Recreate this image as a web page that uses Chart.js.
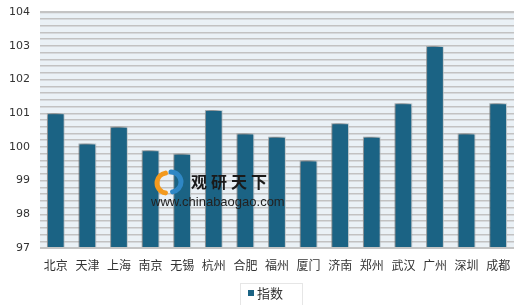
<!DOCTYPE html>
<html><head><meta charset="utf-8">
<script src="https://cdn.jsdelivr.net/npm/chart.js@4/dist/chart.umd.min.js"></script>
<style>html,body{margin:0;padding:0;background:#fff}#wrap{width:520px;height:305px}</style>
</head><body><div id="wrap"><canvas id="c" width="520" height="305"></canvas></div>
<script>
const categories = ['北京','天津','上海','南京','无锡','杭州','合肥','福州','厦门','济南','郑州','武汉','广州','深圳','成都'];
const indexValues = [101.0,100.1,100.6,99.9,99.8,101.1,100.4,100.3,99.6,100.7,100.3,101.3,103.0,100.4,101.3];
const seriesName = '指数';
const yMin = 97, yMax = 104;
const barColor = '#1b6384';

const bgPlugin = {
  id:'bg',
  beforeDraw(chart){
    const {ctx, chartArea:a} = chart;
    ctx.save();
    ctx.fillStyle = '#eaf1f6';
    ctx.fillRect(a.left, a.top, a.right-a.left, a.bottom-a.top);
    ctx.restore();
  },
  beforeDatasetDraw(chart){
    const ctx = chart.ctx;
    ctx.save();
    ctx.shadowColor = 'rgba(0,0,0,0.6)';
    ctx.shadowBlur = 8;
    ctx.shadowOffsetX = -2;
    ctx.shadowOffsetY = -3;
  },
  afterDatasetDraw(chart){ chart.ctx.restore(); },
  afterDraw(chart){
    const {ctx, chartArea:a} = chart;
    ctx.save();
    ctx.strokeStyle = '#c4c4c4'; ctx.lineWidth = 2;
    ctx.beginPath(); ctx.moveTo(a.left, a.bottom); ctx.lineTo(a.right, a.bottom); ctx.stroke();
    ctx.beginPath(); ctx.moveTo(a.left, a.top); ctx.lineTo(a.right, a.top); ctx.stroke();
    // watermark logo
    const cx = 167, cy = 183;
    ctx.lineWidth = 5; ctx.lineCap='round';
    ctx.strokeStyle = '#f39a1e';
    ctx.beginPath(); ctx.arc(cx, cy, 10, Math.PI*0.55, Math.PI*1.45); ctx.stroke();
    ctx.strokeStyle = '#2f87c5';
    ctx.beginPath(); ctx.arc(cx+4, cy-1, 10, Math.PI*1.5, Math.PI*2.45); ctx.stroke();
    ctx.fillStyle = '#1a1a1a';
    ctx.font = 'bold 16px "Noto Sans CJK SC"';
    ctx.textBaseline = 'middle'; ctx.textAlign = 'left';
    const wm = '观研天下';
    for (let i = 0; i < wm.length; i++) ctx.fillText(wm[i], 191 + i*20, 182);
    ctx.fillStyle = '#222';
    ctx.font = '13px "Liberation Sans"';
    ctx.fillText('www.chinabaogao.com', 151, 202);
    // legend
    ctx.strokeStyle = '#e6e6e6'; ctx.lineWidth = 1;
    ctx.strokeRect(240.5, 283.5, 62, 30);
    ctx.fillStyle = barColor;
    ctx.fillRect(248, 290, 6, 6);
    ctx.fillStyle = '#333';
    ctx.font = '13px "Noto Sans CJK SC"';
    ctx.fillText(chart.data.datasets[0].label, 257, 293);
    ctx.restore();
  }
};

new Chart(document.getElementById('c'), {
  type:'bar',
  data:{ labels: categories, datasets:[{ label: seriesName, data: indexValues,
    backgroundColor: barColor, borderColor:'rgba(235,245,250,0.9)', borderWidth:1,
    categoryPercentage:1, barPercentage:0.56 }]},
  options:{
    responsive:false, animation:false,
    layout:{ padding:{ top:10, right:6, left:0, bottom:26 } },
    plugins:{ tooltip:{enabled:false}, legend:{ display:false } },
    scales:{
      x:{ grid:{display:false}, border:{display:false},
        ticks:{ color:'#333', font:{ family:'"Noto Sans CJK SC"', size:12 }, maxRotation:0, autoSkip:false, padding:2 },
        afterFit(s){ s.height = 31; } },
      y:{ min:yMin, max:yMax, border:{display:false},
        grid:{ color:'#c2c2c2', lineWidth:1.5, drawTicks:false },
        ticks:{ stepSize:0.2, maxTicksLimit:100, autoSkip:false, color:'#333', padding:10,
          font:{ family:'"DejaVu Sans"', size:11, lineHeight:0.4 },
          callback(v){ return Math.abs(v-Math.round(v))<1e-6 ? String(Math.round(v)) : ''; } },
        afterFit(s){ s.width = 40; } }
    }
  },
  plugins:[bgPlugin]
});
</script></body></html>
